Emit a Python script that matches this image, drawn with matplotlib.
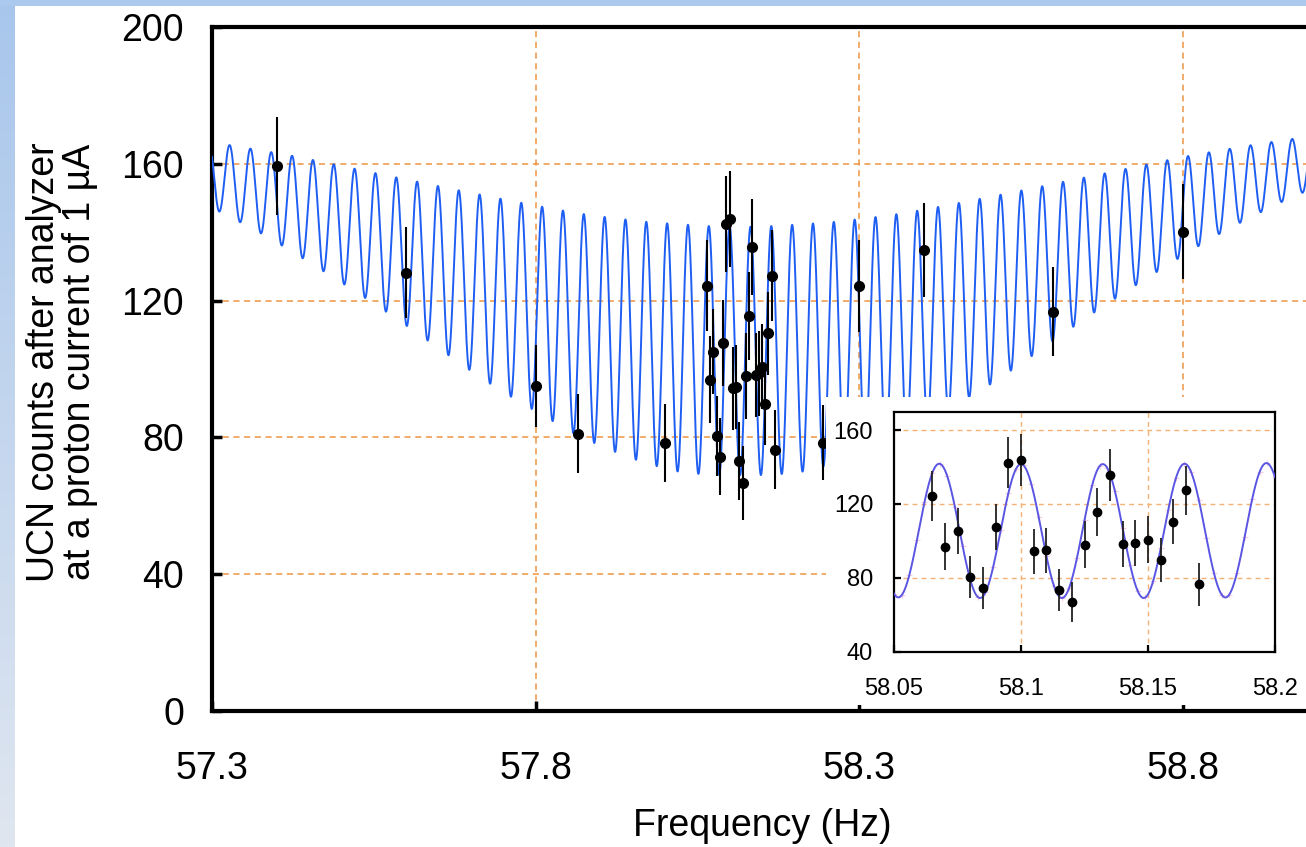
import numpy as np
import matplotlib
matplotlib.use("Agg")
import matplotlib.pyplot as plt
from matplotlib.patches import Rectangle

plt.rcParams['font.family'] = ['Liberation Sans', 'DejaVu Sans']

# ---- measured UCN counts ----
# fine scan around the resonance
scan_freq = [58.065, 58.070, 58.075, 58.080, 58.085, 58.090, 58.095, 58.100,
             58.105, 58.110, 58.115, 58.120, 58.125, 58.130, 58.135, 58.140,
             58.145, 58.150, 58.155, 58.160, 58.165, 58.170]
scan_counts = [124.4, 96.9, 105.1, 80.4, 74.4, 107.5, 142.4, 143.9,
               94.3, 94.8, 73.1, 66.7, 98.0, 115.5, 135.7, 98.3,
               98.8, 100.7, 89.7, 110.4, 127.3, 76.4]
scan_err = [13.4, 12.8, 12.5, 11.6, 11.2, 12.6, 14.0, 14.1,
            12.1, 12.3, 11.4, 10.9, 12.5, 13.0, 14.0, 12.3,
            12.4, 12.5, 11.9, 12.1, 13.4, 11.5]

# coarse scan over the full range
wide_freq = [57.40, 57.60, 57.80, 57.865, 58.00, 58.245, 58.30, 58.40, 58.60, 58.80]
wide_counts = [159.4, 128.2, 95.1, 81.1, 78.3, 78.4, 124.3, 134.8, 116.7, 140.1]
wide_err = [14.4, 13.2, 12.0, 11.6, 11.4, 11.0, 13.4, 13.7, 13.0, 13.9]

# ---- fitted Ramsey pattern ----
fringe_period = 0.0322      # Hz
fringe_peak = 58.100        # Hz, a fringe maximum
envelope_center = 58.117    # Hz
env_offset = [0.00, 0.05, 0.10, 0.15, 0.20, 0.25, 0.30, 0.35, 0.40, 0.45,
              0.50, 0.55, 0.60, 0.65, 0.70, 0.75, 0.80, 0.85, 0.90]
env_upper = [141.5, 141.8, 142.4, 143.1, 144.2, 145.5, 147.2, 149.0, 150.9, 152.8,
             154.8, 156.7, 158.7, 160.7, 162.6, 164.2, 165.8, 167.2, 168.5]
env_lower = [69.0, 69.0, 70.1, 72.6, 76.2, 80.3, 85.8, 91.3, 97.2, 103.8,
             110.5, 117.0, 123.2, 129.2, 135.1, 140.6, 145.5, 150.1, 154.0]

main_xticks = [57.3, 57.8, 58.3, 58.8]
main_xlabels = ['57.3', '57.8', '58.3', '58.8']
main_yticks = [0, 40, 80, 120, 160, 200]
main_grid_x = [57.8, 58.3, 58.8]
main_grid_y = [40, 80, 120, 160]
inset_xticks = [58.05, 58.1, 58.15, 58.2]
inset_xlabels = ['58.05', '58.1', '58.15', '58.2']
inset_yticks = [40, 80, 120, 160]
inset_grid_x = [58.1, 58.15]
inset_grid_y = [80, 120, 160]


def ramsey(f):
    d = np.abs(f - envelope_center)
    hi = np.interp(d, env_offset, env_upper)
    lo = np.interp(d, env_offset, env_lower)
    return lo + (hi - lo) * 0.5 * (1 + np.cos(2 * np.pi * (f - fringe_peak) / fringe_period))


W, H = 1306, 847
fig = plt.figure(figsize=(W / 100, H / 100), dpi=100)
fig.patch.set_facecolor('white')


def fx(px):
    return px / W


def fy(py):
    return 1 - py / H


# slide background: blue strip on the left and along the top
bg = fig.add_axes([0, 0, 1, 1], zorder=-10)
bg.set_xlim(0, 1)
bg.set_ylim(0, 1)
bg.axis('off')
top_c = np.array([168, 198, 236]) / 255
bot_c = np.array([223, 230, 240]) / 255
t = np.linspace(0, 1, 256)[:, None]
grad = (top_c[None, :] * (1 - t) + bot_c[None, :] * t)[:, None, :]
bg.imshow(grad, extent=(0, fx(15), 0, 1), aspect='auto', origin='upper')
bg.add_patch(Rectangle((0, fy(6)), 1, 6 / H, facecolor='#abc9ed', edgecolor='none'))

# ---- main panel ----
ax = fig.add_axes([fx(212), fy(711), 1100 / W, 684 / H])
ax.set_xlim(57.3, 59.0)
ax.set_ylim(0, 200)

grid_col = '#ec9442'
for gx in main_grid_x:
    ax.axvline(gx, color=grid_col, lw=1.1, ls=(0, (4, 3)), zorder=1)
for gy in main_grid_y:
    ax.axhline(gy, color=grid_col, lw=1.1, ls=(0, (4, 3)), zorder=1)

freq = np.linspace(57.3, 59.0, 8000)
ax.plot(freq, ramsey(freq), color='#1f5ef2', lw=1.4, zorder=3)

ax.errorbar(wide_freq, wide_counts, yerr=wide_err, fmt='o', color='black',
            ms=7, elinewidth=1.5, capsize=0, zorder=4)
ax.errorbar(scan_freq, scan_counts, yerr=scan_err, fmt='o', color='black',
            ms=7, elinewidth=1.5, capsize=0, zorder=4)

for s in ax.spines.values():
    s.set_linewidth(3)
ax.set_xticks(main_xticks)
ax.set_xticklabels(main_xlabels)
ax.set_yticks(main_yticks)
ax.set_yticklabels([str(v) for v in main_yticks])
ax.tick_params(axis='both', direction='in', length=7, width=2.5, labelsize=27)
ax.tick_params(axis='x', pad=29)
ax.tick_params(axis='y', pad=20)

# blank area behind the inset
ax.add_patch(Rectangle((fx(826), fy(705)), 1.0, (705 - 397) / H,
                       transform=fig.transFigure, facecolor='white',
                       edgecolor='none', zorder=6))

fig.text(fx(762), fy(826), 'Frequency (Hz)', fontsize=27, ha='center', va='center')
fig.text(fx(62), fy(362), 'UCN counts after analyzer\nat a proton current of 1 \u00b5A',
         fontsize=27, rotation=90, ha='center', va='center',
         multialignment='center', linespacing=1.02)

# ---- inset: zoom on the central fringes ----
axin = fig.add_axes([fx(894), fy(651.5), 381 / W, (651.5 - 411.7) / H])
axin.set_xlim(58.05, 58.2)
axin.set_ylim(40, 170)
inset_grid_col = '#f5b273'
for gx in inset_grid_x:
    axin.axvline(gx, color=inset_grid_col, lw=1.0, ls=(0, (3.5, 3)), zorder=1)
for gy in inset_grid_y:
    axin.axhline(gy, color=inset_grid_col, lw=1.0, ls=(0, (3.5, 3)), zorder=1)

fine = np.linspace(58.05, 58.2, 1500)
axin.plot(fine, ramsey(fine), color='#5a55e2', lw=1.4, zorder=3)
marks = np.arange(58.05, 58.2001, 0.003)
axin.plot(marks, ramsey(marks), ls='none', marker='+', ms=4, mew=0.8,
          color='#f2b6d6', alpha=0.7, zorder=2)
axin.errorbar(scan_freq, scan_counts, yerr=scan_err, fmt='o', color='black',
              ecolor='#222222', ms=6, elinewidth=1.3, capsize=0, zorder=4)

for s in axin.spines.values():
    s.set_linewidth(1.6)
axin.set_xticks(inset_xticks)
axin.set_xticklabels(inset_xlabels)
axin.set_yticks(inset_yticks)
axin.set_yticklabels([str(v) for v in inset_yticks])
axin.tick_params(axis='both', direction='in', length=5, width=1.6, labelsize=17)
axin.tick_params(axis='x', pad=19)
axin.tick_params(axis='y', pad=15)

fig.savefig('out.png', dpi=100)
